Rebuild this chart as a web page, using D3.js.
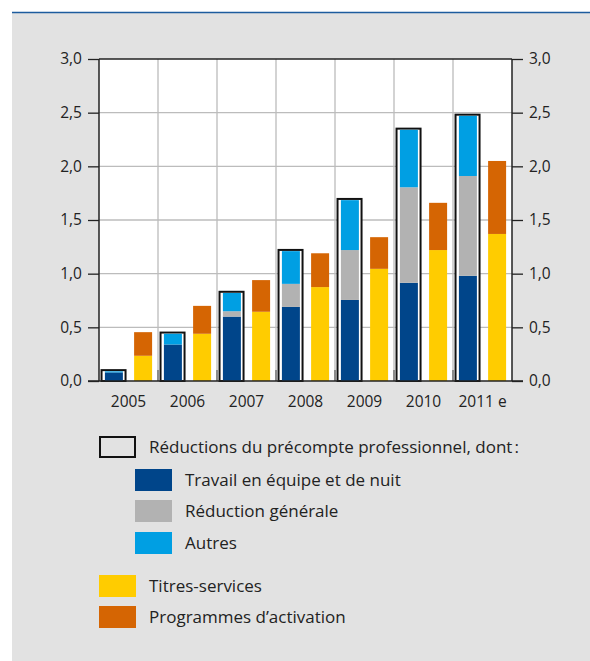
<!DOCTYPE html>
<html>
<head>
<meta charset="utf-8">
<script src="https://cdn.jsdelivr.net/npm/d3@7"></script>
<style>
  html, body { margin: 0; padding: 0; background: #fff; }
  svg { display: block; font-family: "Open Sans", "Noto Sans", sans-serif; }
</style>
</head>
<body>
<svg id="chart" width="590" height="661"></svg>
<script>
// Years on the category axis
const years = ["2005", "2006", "2007", "2008", "2009", "2010", "2011 e"];

// Réductions du précompte professionnel, by component (milliards €)
const teamwork = [0.08, 0.34, 0.60, 0.69, 0.755, 0.915, 0.98];
const general  = [0.00, 0.00, 0.05, 0.215, 0.465, 0.89, 0.93];
const others   = [0.01, 0.10, 0.17, 0.305, 0.465, 0.535, 0.56];

// Titres-services and programmes d'activation
const serviceVouchers = [0.235, 0.44, 0.645, 0.875, 1.045, 1.22, 1.37];
const activation      = [0.22, 0.26, 0.295, 0.315, 0.295, 0.44, 0.68];

// Value axis ticks
const yTicks = [0, 0.5, 1.0, 1.5, 2.0, 2.5, 3.0];

const colors = {
  teamwork: "#00458a",
  general: "#b2b2b2",
  others: "#009fe3",
  vouchers: "#ffcc00",
  activation: "#d56503"
};

const svg = d3.select("#chart");
const W = 590, H = 661;

// Page frame: grey panel with a blue rule on top
svg.append("rect").attr("x", 12).attr("y", 12).attr("width", W - 12).attr("height", H - 12).attr("fill", "#e2e2e2");
svg.append("line").attr("x1", 12).attr("x2", W).attr("y1", 12.5).attr("y2", 12.5)
  .attr("stroke", "#1d5c9e").attr("stroke-width", 1.6);

const plot = { left: 99, right: 512, top: 59, bottom: 381 };

const x = d3.scaleBand().domain(years).range([plot.left, plot.right]).padding(0);
const y = d3.scaleLinear().domain([0, 3]).range([plot.bottom, plot.top]);
const bw = x.bandwidth();

// Plot background
svg.append("rect").attr("x", plot.left).attr("y", plot.top)
  .attr("width", plot.right - plot.left).attr("height", plot.bottom - plot.top).attr("fill", "#fff");

// Horizontal grid
svg.append("g").selectAll("line").data(yTicks.slice(1, -1)).join("line")
  .attr("x1", plot.left).attr("x2", plot.right)
  .attr("y1", d => y(d)).attr("y2", d => y(d))
  .attr("stroke", "#bcbcbc").attr("stroke-width", 1.3);

// Vertical grid between years
const bounds = years.slice(1).map(d => x(d));
svg.append("g").selectAll("line").data(bounds).join("line")
  .attr("x1", d => d).attr("x2", d => d)
  .attr("y1", plot.top).attr("y2", plot.bottom)
  .attr("stroke", "#bcbcbc").attr("stroke-width", 1.3);
// short inner ticks on the base line
svg.append("g").selectAll("line").data(bounds).join("line")
  .attr("x1", d => d).attr("x2", d => d)
  .attr("y1", plot.bottom - 11).attr("y2", plot.bottom)
  .attr("stroke", "#666").attr("stroke-width", 1.3);

// Bars
const boxL = bw * 0.043, boxR = bw * 0.45;       // outline of the withholding-tax total
const inL = bw * 0.10, inR = bw * 0.405;         // stacked components inside
const sideL = bw * 0.595, sideR = bw * 0.90;     // vouchers + activation

const gBars = svg.append("g");
years.forEach((yr, i) => {
  const x0 = x(yr);
  const total = teamwork[i] + general[i] + others[i];
  // outline box
  gBars.append("rect")
    .attr("x", x0 + boxL).attr("y", y(total) - 1.2)
    .attr("width", boxR - boxL).attr("height", y(0) - y(total) + 1.2)
    .attr("fill", "#fff").attr("stroke", "#111").attr("stroke-width", 2);
  // stacked components
  const parts = [[teamwork[i], colors.teamwork], [general[i], colors.general], [others[i], colors.others]];
  let acc = 0;
  parts.forEach(([v, c]) => {
    if (v > 0) {
      gBars.append("rect")
        .attr("x", x0 + inL).attr("width", inR - inL)
        .attr("y", y(acc + v)).attr("height", y(acc) - y(acc + v))
        .attr("fill", c);
    }
    acc += v;
  });
  // side stack
  const side = [[serviceVouchers[i], colors.vouchers], [activation[i], colors.activation]];
  acc = 0;
  side.forEach(([v, c]) => {
    gBars.append("rect")
      .attr("x", x0 + sideL).attr("width", sideR - sideL)
      .attr("y", y(acc + v)).attr("height", y(acc) - y(acc + v))
      .attr("fill", c);
    acc += v;
  });
});

// Frame: axes lines
const frame = svg.append("g").attr("stroke", "#222").attr("stroke-width", 1.5);
frame.append("line").attr("x1", plot.left).attr("x2", plot.left).attr("y1", plot.top).attr("y2", plot.bottom);
frame.append("line").attr("x1", plot.right).attr("x2", plot.right).attr("y1", plot.top).attr("y2", plot.bottom);
frame.append("line").attr("x1", plot.left - 11).attr("x2", plot.right + 11).attr("y1", plot.bottom).attr("y2", plot.bottom);
frame.append("line").attr("x1", plot.left).attr("x2", plot.right).attr("y1", plot.top).attr("y2", plot.top);

const fmt = d => d3.format(".1f")(d).replace(".", ",");

// Left axis
const yl = svg.append("g").attr("transform", `translate(${plot.left},0)`)
  .call(d3.axisLeft(y).tickValues(yTicks).tickFormat(fmt).tickSize(11).tickPadding(6));
// Right axis
const yr = svg.append("g").attr("transform", `translate(${plot.right},0)`)
  .call(d3.axisRight(y).tickValues(yTicks).tickFormat(fmt).tickSize(11).tickPadding(6));
[yl, yr].forEach(g => {
  g.select(".domain").remove();
  g.selectAll(".tick line").attr("stroke", "#222").attr("stroke-width", 1.3);
  g.selectAll(".tick text").attr("fill", "#222").attr("font-size", 15.5)
    .attr("font-family", "\"Open Sans\", \"Noto Sans\", sans-serif");
});

// Bottom axis labels
const xa = svg.append("g").attr("transform", `translate(0,${plot.bottom})`)
  .call(d3.axisBottom(x).tickSize(0).tickPadding(15));
xa.select(".domain").remove();
xa.selectAll(".tick text").attr("fill", "#222").attr("font-size", 15.5)
  .attr("font-family", "\"Open Sans\", \"Noto Sans\", sans-serif");

// Legend
const legend = [
  { label: "Réductions du précompte professionnel, dont\u202F:", x: 99, y: 436, outline: true },
  { label: "Travail en équipe et de nuit", x: 135, y: 469, fill: colors.teamwork },
  { label: "Réduction générale", x: 135, y: 500, fill: colors.general },
  { label: "Autres", x: 135, y: 532, fill: colors.others },
  { label: "Titres-services", x: 99, y: 575, fill: colors.vouchers },
  { label: "Programmes d\u2019activation", x: 99, y: 606, fill: colors.activation }
];
const lg = svg.append("g");
legend.forEach(d => {
  const r = lg.append("rect").attr("x", d.x).attr("y", d.y).attr("width", 37).attr("height", 22);
  if (d.outline) {
    r.attr("x", d.x + 1).attr("y", d.y + 1).attr("width", 35).attr("height", 20)
      .attr("fill", "none").attr("stroke", "#111").attr("stroke-width", 2);
  } else {
    r.attr("fill", d.fill);
  }
  lg.append("text").attr("x", d.x + 50).attr("y", d.y + 17)
    .attr("font-size", 17).attr("fill", "#222").text(d.label);
});
</script>
</body>
</html>
